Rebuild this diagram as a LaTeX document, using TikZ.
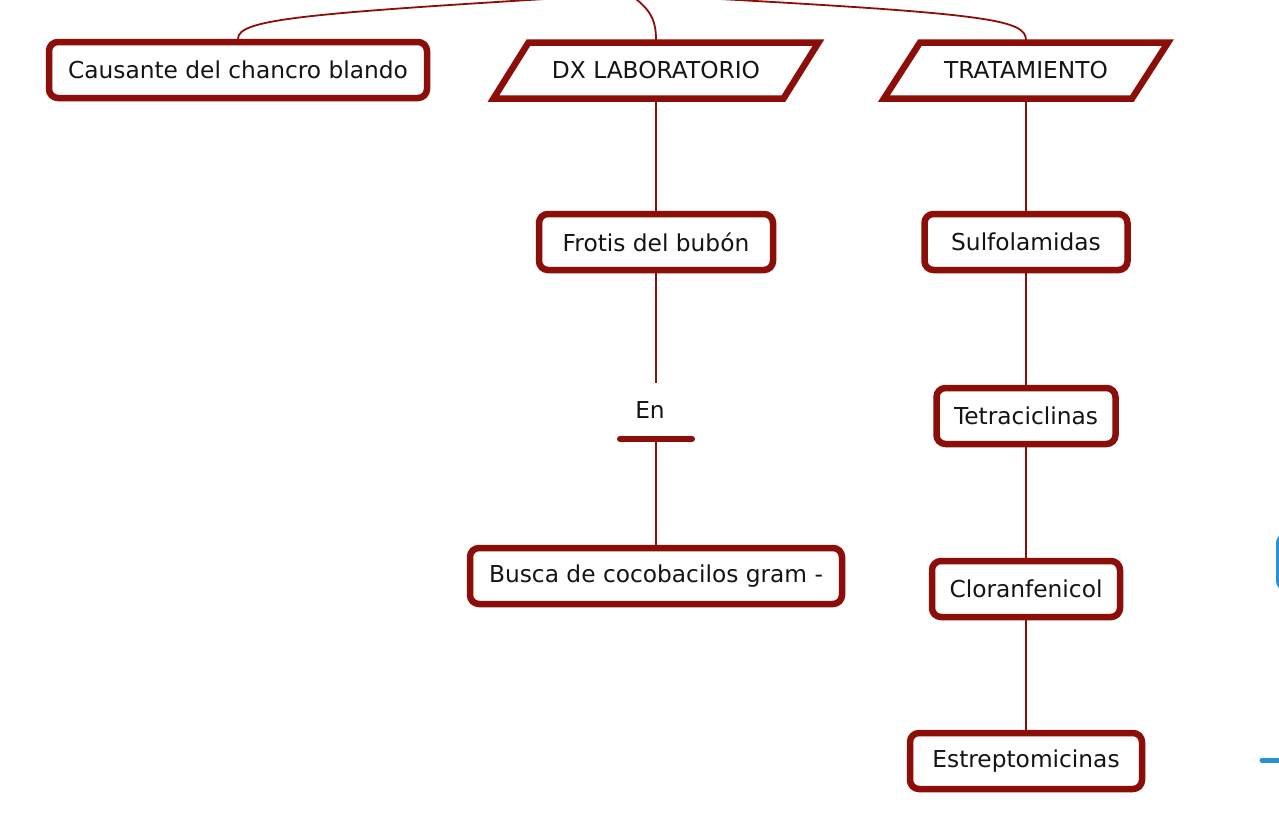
\documentclass[tikz,border=0pt]{standalone}
\usepackage{fontspec}
\setmainfont{DejaVu Sans}
\usetikzlibrary{calc}
\definecolor{mred}{RGB}{140,14,8}
\definecolor{mblue}{RGB}{43,143,214}
\definecolor{mtext}{RGB}{20,20,20}
\tikzset{
  every node/.style={font=\fontsize{23.3}{27}\selectfont, text=mtext},
  rbox/.style={draw=mred, line width=6.5pt, rounded corners=9pt, fill=white, minimum height=56pt, inner sep=0pt},
  ptext/.style={minimum height=60pt, inner sep=0pt},
  pline/.style={draw=mred, line width=6.5pt, fill=white, line join=miter},
  conn/.style={draw=mred, line width=1.8pt},
}
\newcommand\paraframe[3]{% node, half width, slant
  \path[pline] ($(#1.center)+(-#2+#3,-28)$) -- ($(#1.center)+(#2+#3,-28)$)
    -- ($(#1.center)+(#2-#3,28)$) -- ($(#1.center)+(-#2-#3,28)$) -- cycle;}
\begin{document}
\begin{tikzpicture}[x=1pt,y=-1pt]
\useasboundingbox (0,0) rectangle (1279,817);
\begin{scope}
\clip (0,0) rectangle (1279,817);
% root coordinates off the top
\coordinate (rootL) at (545,-1);
\coordinate (rootM) at (636,-1);
\coordinate (rootR) at (720,-1);

\node[rbox, minimum width=378pt] (causa) at (238,70) {Causante del chancro blando};
\node[ptext] (dx) at (656,70.5) {};
\paraframe{dx}{145}{17.5}
\node at (dx.center) {DX LABORATORIO};
\node[ptext] (trat) at (1026,70.5) {};
\paraframe{trat}{124}{18}
\node at (trat.center) {TRATAMIENTO};

\node[rbox, minimum width=234pt] (frotis) at (656,242) {Frotis del bubón};
\node[inner sep=0pt] (en) at (650,410) {En};
\coordinate (enTop) at (656,383);
\coordinate (barL) at (620,439);
\coordinate (barR) at (692,439);
\coordinate (barM) at (656,439);
\node[rbox, minimum width=372pt] (busca) at (656,576) {Busca de cocobacilos gram -};

\node[rbox, minimum width=203pt] (sulfo) at (1026,242) {Sulfolamidas};
\node[rbox, minimum width=179pt] (tetra) at (1026,416) {Tetraciclinas};
\node[rbox, minimum width=188pt] (clor) at (1026,589) {Cloranfenicol};
\node[rbox, minimum width=232pt] (estr) at (1026,761) {Estreptomicinas};

% connectors
\path[conn] (causa.north) .. controls (238,20) and (300,14) .. (rootL);
\path[conn] (dx.north) .. controls (656,22) and (652,12) .. (rootM);
\path[conn] (trat.north) .. controls (1026,20) and (990,14) .. (rootR);

\path[conn] (dx.south) -- (frotis.north);
\path[conn] (frotis.south) -- (enTop);
\path[conn] (barM) -- (busca.north);
\draw[mred, line width=6pt, line cap=round] (barL) -- (barR);

\path[conn] (trat.south) -- (sulfo.north);
\path[conn] (sulfo.south) -- (tetra.north);
\path[conn] (tetra.south) -- (clor.north);
\path[conn] (clor.south) -- (estr.north);

% partial blue shapes at the right edge
\draw[mblue, line width=4pt, rounded corners=8pt] (1278,535) rectangle (1330,589);
\draw[mblue, line width=5pt, line cap=round] (1262,760) -- (1300,760);
\end{scope}
\end{tikzpicture}
\end{document}
